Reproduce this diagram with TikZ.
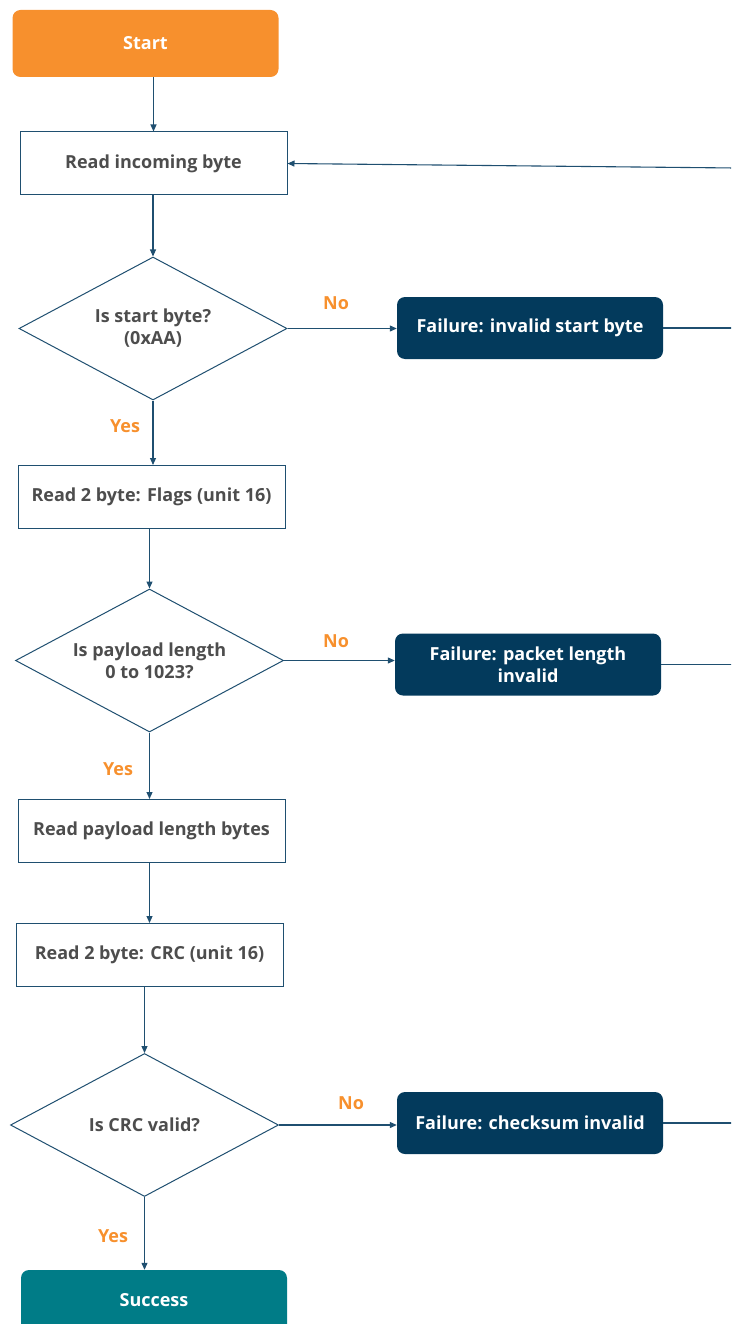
\documentclass[tikz,border=0pt]{standalone}
\usepackage{fontspec}
\setmainfont{Open Sans}
\usetikzlibrary{shapes.geometric,arrows.meta}
\definecolor{orangeA}{HTML}{F7902D}
\definecolor{navyA}{HTML}{033A5C}
\definecolor{tealA}{HTML}{007C87}
\definecolor{lineA}{HTML}{1F4F70}
\definecolor{textA}{HTML}{4D4D4D}
\tikzset{
  base/.style={font=\bfseries\fontsize{18}{22}\selectfont, align=center, inner sep=0pt},
  procbox/.style={base, rectangle, draw=lineA, line width=1pt, fill=white, text=textA, minimum width=267pt, minimum height=63pt},
  termbox/.style={base, rectangle, rounded corners=8pt, text=white, minimum width=266pt, minimum height=67pt},
  failbox/.style={base, rectangle, rounded corners=8pt, fill=navyA, text=white, minimum width=266pt, minimum height=62pt},
  decbox/.style={base, diamond, aspect=1.87, draw=lineA, line width=1pt, fill=white, text=textA, minimum width=268pt, minimum height=143pt},
  conn/.style={draw=lineA, line width=1.1pt},
  arr/.style={conn, -{Triangle[length=7pt,width=6pt]}},
  lbl/.style={font=\bfseries\fontsize{18}{22}\selectfont, text=orangeA, inner sep=0pt}
}
\begin{document}
\begin{tikzpicture}[x=1pt,y=-1pt]
\useasboundingbox (0,0) rectangle (731,1324);
\clip (0,0) rectangle (731,1324);
% nodes
\node[termbox, fill=orangeA] (start) at (145.5,43.5) {Start};
\node[procbox] (read1) at (153.5,163.5) {Read incoming byte};
\node[decbox] (d1) at (153,328.5) {Is start byte?\\(0xAA)};
\node[failbox] (f1) at (530,328) {Failure: invalid start byte};
\node[procbox] (read2) at (151.5,497) {Read 2 byte: Flags (unit 16)};
\node[decbox] (d2) at (149.5,660.5) {Is payload length\\0 to 1023?};
\node[failbox] (f2) at (528,664.5) {Failure: packet length\\invalid};
\node[procbox] (read3) at (151.5,831) {Read payload length bytes};
\node[procbox] (read4) at (149.5,955) {Read 2 byte: CRC (unit 16)};
\node[decbox] (d3) at (144.5,1125) {Is CRC valid?};
\node[failbox] (f3) at (530,1123) {Failure: checksum invalid};
\node[termbox, fill=tealA, minimum height=70pt] (succ) at (154,1305) {};
\node[base, text=white] (succt) at (154,1300) {Success};
% right edge coordinates
\coordinate (r0) at (735,168);
\coordinate (r1) at (735,328);
\coordinate (r2) at (735,664.5);
\coordinate (r3) at (735,1123);
% connectors
\draw[arr] (read1.north |- start.south) -- (read1.north);
\draw[arr] (read1.south -| d1.north) -- (d1.north);
\draw[arr] (d1.east) -- (f1.west |- d1.east);
\draw[arr] (d1.south) -- (d1.south |- read2.north);
\draw[arr] (read2.south -| d2.north) -- (d2.north);
\draw[arr] (d2.east) -- (f2.west |- d2.east);
\draw[arr] (d2.south) -- (d2.south |- read3.north);
\draw[arr] (read3.south -| read4.north) -- (read4.north);
\draw[arr] (read4.south -| d3.north) -- (d3.north);
\draw[arr] (d3.east) -- (f3.west |- d3.east);
\draw[arr] (d3.south) -- (d3.south |- succ.north);
\draw[conn] (f1.east) -- (r1);
\draw[conn] (f2.east) -- (r2);
\draw[conn] (f3.east) -- (r3);
\draw[arr] (r0) -- (read1.east);
% labels
\node[lbl] (no1) at (336,303) {No};
\node[lbl] (yes1) at (125,426) {Yes};
\node[lbl] (no2) at (336,641) {No};
\node[lbl] (yes2) at (118,769) {Yes};
\node[lbl] (no3) at (351,1103) {No};
\node[lbl] (yes3) at (113,1236) {Yes};
\end{tikzpicture}
\end{document}
